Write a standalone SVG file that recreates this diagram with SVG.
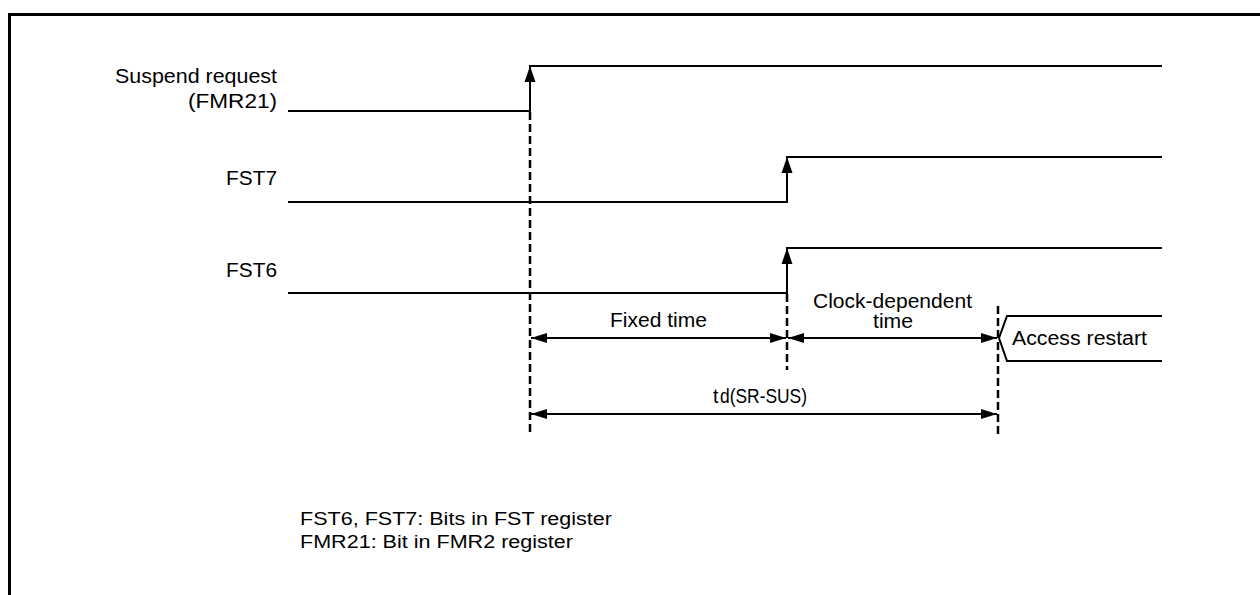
<svg xmlns="http://www.w3.org/2000/svg" width="1260" height="595" viewBox="0 0 1260 595">
<style>
.t{font-family:"Liberation Sans",Arial,sans-serif;font-size:19.5px;fill:#000}
.n{font-family:"Liberation Sans",Arial,sans-serif;font-size:18px;fill:#000}
.s{fill:none;stroke:#000;stroke-width:2}
.d{fill:none;stroke:#000;stroke-width:2.5;stroke-dasharray:8,4}
.a{fill:none;stroke:#000;stroke-width:2;marker-start:url(#ms);marker-end:url(#me)}
</style>
<defs>
<marker id="me" markerWidth="18" markerHeight="12" refX="16" refY="6" orient="auto" markerUnits="userSpaceOnUse"><path d="M0,1 L16,6 L0,11 Z" fill="#000"/></marker>
<marker id="ms" markerWidth="18" markerHeight="12" refX="0" refY="6" orient="auto" markerUnits="userSpaceOnUse"><path d="M16,1 L0,6 L16,11 Z" fill="#000"/></marker>
<marker id="up" markerWidth="18" markerHeight="12" refX="16" refY="6" orient="auto" markerUnits="userSpaceOnUse"><path d="M0,0.5 L16,6 L0,11.5 Z" fill="#000"/></marker>
</defs>
<rect width="1260" height="595" fill="#fff"/>
<g id="frame"><path d="M9.5,595 V14.5 H1260" fill="none" stroke="#000" stroke-width="3"/></g>
<g id="sr"><text class="t" x="115" y="83" textLength="162" lengthAdjust="spacingAndGlyphs">Suspend request</text><text class="t" x="188" y="108" textLength="89" lengthAdjust="spacingAndGlyphs">(FMR21)</text>
<path class="s" d="M288,111 H530 V66 H1162"/><path class="s" d="M530,111 V66" marker-end="url(#up)"/></g>
<g id="fst7"><text class="t" x="226" y="185" textLength="51" lengthAdjust="spacingAndGlyphs">FST7</text>
<path class="s" d="M288,202 H787 V157 H1162"/><path class="s" d="M787,202 V157" marker-end="url(#up)"/></g>
<g id="fst6"><text class="t" x="226" y="277" textLength="51" lengthAdjust="spacingAndGlyphs">FST6</text>
<path class="s" d="M288,293 H787 V248 H1162"/><path class="s" d="M787,293 V248" marker-end="url(#up)"/></g>
<g id="access"><path class="s" d="M1162,316 H1007 L999,338 L1007,361 H1162"/><text class="t" x="1012" y="345" textLength="135" lengthAdjust="spacingAndGlyphs">Access restart</text></g>
<g id="connectors">
<path class="d" d="M530,112 V434"/>
<path class="d" d="M787,294 V370"/>
<path class="d" d="M998,306 V434"/>
<path class="a" d="M531,338 H786"/>
<path class="a" d="M788,338 H997"/>
<path class="a" d="M531,414 H997"/>
</g>
<g id="labels">
<text class="t" x="610" y="327" textLength="97" lengthAdjust="spacingAndGlyphs">Fixed time</text>
<text class="t" x="813" y="308" textLength="159" lengthAdjust="spacingAndGlyphs">Clock-dependent</text>
<text class="t" x="873" y="328" textLength="40" lengthAdjust="spacingAndGlyphs">time</text>
<text class="t" x="713" y="403">t</text>
<text class="t" x="720" y="403" font-size="15" textLength="87" lengthAdjust="spacingAndGlyphs">d(SR-SUS)</text>
</g>
<g id="notes">
<text class="n" x="300" y="525" textLength="312" lengthAdjust="spacingAndGlyphs">FST6, FST7: Bits in FST register</text>
<text class="n" x="300" y="548" textLength="273" lengthAdjust="spacingAndGlyphs">FMR21: Bit in FMR2 register</text>
</g>
</svg>
